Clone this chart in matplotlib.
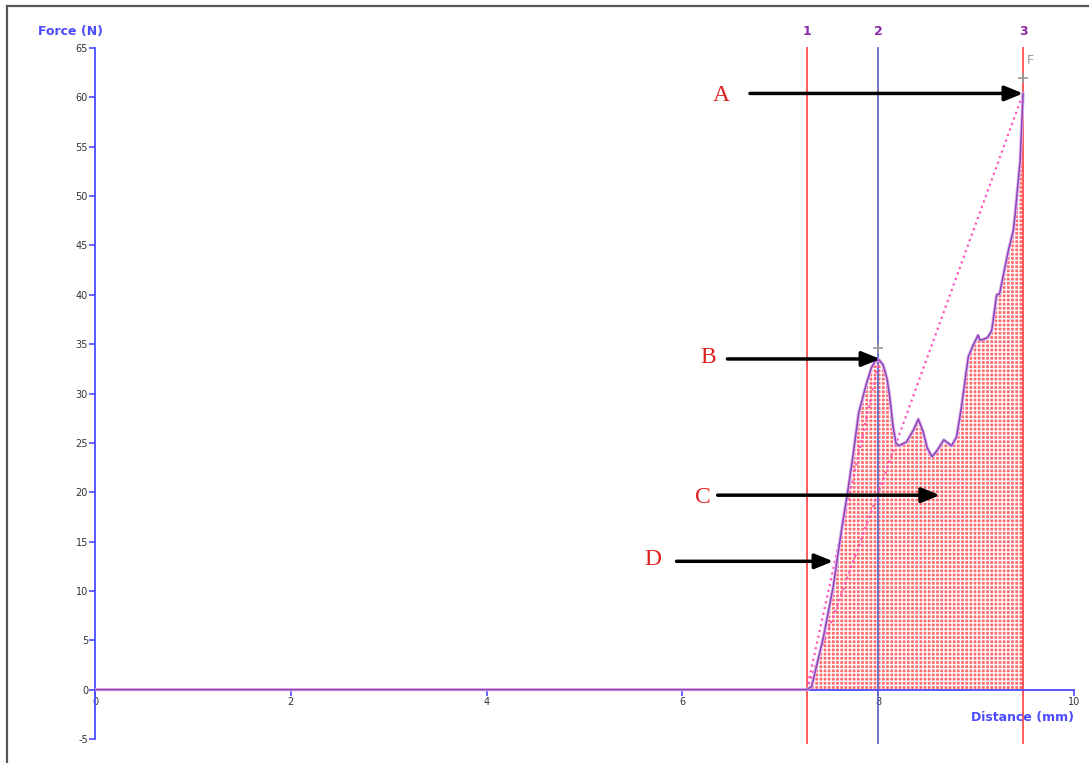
import matplotlib.pyplot as plt
from matplotlib.lines import Line2D

# force-distance curve
distance = [0, 7.27, 7.32, 7.44, 7.54, 7.59, 7.64, 7.68, 7.74, 7.80, 7.88, 7.93, 7.97,
            8.01, 8.05, 8.09, 8.12, 8.15, 8.18, 8.21, 8.29, 8.36, 8.41, 8.46, 8.50,
            8.55, 8.60, 8.67, 8.75, 8.80, 8.85, 8.92, 8.97, 9.02, 9.04, 9.08, 9.12,
            9.16, 9.21, 9.24, 9.26, 9.33, 9.38, 9.40, 9.45, 9.48]
force = [0, 0, 0.3, 5.3, 10.4, 13.8, 17.1, 19.5, 23.5, 28.0, 31.0, 32.6, 33.3,
         33.4, 32.9, 31.5, 29.5, 26.8, 25.0, 24.7, 25.1, 26.3, 27.4, 26.1, 24.5,
         23.6, 24.2, 25.3, 24.7, 25.6, 28.6, 33.7, 34.9, 35.9, 35.4, 35.5, 35.7,
         36.4, 40.0, 40.1, 41.1, 44.5, 46.5, 48.3, 53.6, 60.4]

# cursor lines 1, 2, 3
cursor_x = [7.27, 8.0, 9.48]
cursor_labels = ['1', '2', '3']
cursor_colors = ['#ff4d4d', '#6666c8', '#ff4d4d']

start = (7.27, 0)
peak = (8.01, 33.4)
maxpt = (9.48, 60.4)

x_ticks = [0, 2, 4, 6, 8, 10]
y_ticks = list(range(-5, 70, 5))

fig = plt.figure(figsize=(10.89, 7.63), dpi=100)
ax = fig.add_axes([95 / 1089, 0.025, 979 / 1089, 0.925])
ax.set_xlim(0, 10)
ax.set_ylim(-5.5, 66)
ax.patch.set_alpha(0)

blue = '#4b4bff'
for s in ['top', 'right']:
    ax.spines[s].set_visible(False)
ax.spines['left'].set_color(blue)
ax.spines['left'].set_bounds(-5, 65)
ax.spines['left'].set_linewidth(1.3)
ax.spines['bottom'].set_position(('data', 0))
ax.spines['bottom'].set_color(blue)
ax.spines['bottom'].set_bounds(0, 10)
ax.spines['bottom'].set_linewidth(1.3)

ax.set_xticks(x_ticks)
ax.set_yticks(y_ticks)
ax.set_xticklabels([str(t) for t in x_ticks])
ax.set_yticklabels([str(t) for t in y_ticks])
ax.tick_params(axis='both', colors=blue, labelcolor='#333333', labelsize=7,
               length=4, width=1.2, pad=1)

# shaded work area
fx = [d for d in distance if d >= 7.27]
fy = force[len(distance) - len(fx):]
ax.fill_between(fx, 0, fy, facecolor='#ff6b6b', edgecolor='white', hatch='++++',
                linewidth=0, zorder=1)

# cursors
for x, lab, c in zip(cursor_x, cursor_labels, cursor_colors):
    ax.plot([x, x], [-5.4, 65], color=c, lw=1.3, clip_on=False, zorder=2)
    ax.text(x, 66.7, lab, color='#8a2aa8', fontsize=9, fontweight='bold',
            ha='center', va='center', clip_on=False)

# dotted gradient lines
ax.plot([start[0], maxpt[0]], [start[1], maxpt[1]], ':', color='#ff55bb', lw=1.6, zorder=3)
ax.plot([start[0], peak[0]], [start[1], peak[1]], ':', color='#ff55bb', lw=1.6, zorder=3)

# curve
ax.plot(distance, force, color='#dcb4ec', lw=2.4, zorder=4)
ax.plot(distance, force, color='#8e44b8', lw=1.1, zorder=5)

# markers
ax.plot([8.0, 9.48], [34.6, 62.0], '+', color='#999999', ms=7, mew=1.2, zorder=6)
ax.text(9.52, 63.7, 'F', color='#999999', fontsize=9, ha='left', va='center')

# axis titles
fig.text(38 / 1089, 1 - 31 / 763, 'Force (N)', color=blue, fontsize=9,
         fontweight='bold', ha='left', va='center')
fig.text(1074 / 1089, 1 - 718 / 763, 'Distance (mm)', color=blue, fontsize=9,
         fontweight='bold', ha='right', va='center')

# letters + arrows
notes = [('A', (6.40, 60.2), (6.69, 60.4), (9.48, 60.4)),
         ('B', (6.26, 33.6), (6.46, 33.5), (8.02, 33.5)),
         ('C', (6.21, 19.5), (6.36, 19.7), (8.63, 19.7)),
         ('D', (5.70, 13.2), (5.94, 13.0), (7.54, 13.0))]
for lab, tpos, tail, head in notes:
    ax.text(tpos[0], tpos[1], lab, color='#e02020', fontsize=17,
            family='Liberation Serif', ha='center', va='center', zorder=7)
    ax.annotate('', xy=head, xytext=tail,
                arrowprops=dict(arrowstyle='-|>,head_length=1.1,head_width=0.45',
                                color='black', lw=2.5, shrinkA=0, shrinkB=0), zorder=7)

# screenshot frame (left and top edges)
fig.add_artist(Line2D([7 / 1089, 7 / 1089], [0, 1 - 6 / 763], color='#555555', lw=1.6))
fig.add_artist(Line2D([7 / 1089, 1], [1 - 6 / 763, 1 - 6 / 763], color='#555555', lw=1.6))

fig.savefig('out.png', dpi=100)
